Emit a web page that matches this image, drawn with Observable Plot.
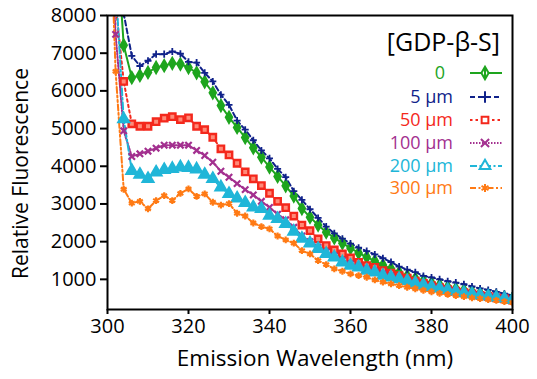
<!DOCTYPE html>
<html>
<head>
<meta charset="utf-8">
<script src="https://cdn.jsdelivr.net/npm/d3@7"></script>
<script src="https://cdn.jsdelivr.net/npm/@observablehq/plot@0.6"></script>
<style>
  html, body { margin: 0; padding: 0; background: #fff; }
  #wrap { position: relative; width: 537px; height: 379px; font-family: "Open Sans", sans-serif; }
  #legend { position: absolute; left: 0; top: 0; }
</style>
</head>
<body>
<div id="wrap"></div>
<script>
// Emission wavelength (nm)
const wavelengths = [300,302,304,306,308,310,312,314,316,318,320,322,324,326,328,330,332,334,336,338,340,342,344,346,348,350,352,354,356,358,360,362,364,366,368,370,372,374,376,378,380,382,384,386,388,390,392,394,396,398,400];

const series0 = [13500,10500,7210,6350,6410,6490,6620,6670,6730,6710,6620,6480,6240,5950,5610,5300,5030,4760,4490,4240,3980,3730,3480,3210,2880,2650,2440,2250,2100,1960,1830,1700,1590,1490,1380,1280,1180,1090,1020,960,900,850,800,750,710,670,630,590,560,520,490];
const series5 = [14000,11000,8050,6930,6660,6800,6975,6975,7045,6985,6770,6750,6480,6250,5900,5630,5213,4970,4690,4420,4210,3930,3710,3340,3110,2860,2630,2400,2220,2080,1950,1840,1750,1660,1560,1460,1340,1260,1190,1090,1050,1000,950,915,870,810,760,720,670,620,570];
const series50 = [11000,8300,6250,5126,5062,5062,5183,5275,5316,5240,5285,5062,4970,4770,4462,4300,4080,3850,3666,3488,3284,3070,2900,2680,2440,2290,2073,1896,1781,1675,1569,1453,1365,1320,1233,1162,1100,1030,950,890,830,780,730,690,650,615,575,550,510,485,450];
const series100 = [12000,7500,4940,4260,4330,4400,4480,4560,4560,4560,4560,4420,4285,4107,3868,3709,3540,3380,3240,3070,2910,2730,2580,2380,2150,2000,1850,1720,1620,1500,1410,1340,1270,1200,1140,1080,1020,960,910,860,810,770,730,690,650,620,590,560,530,500,470];
const series200 = [12000,8800,5250,3880,3780,3666,3840,3905,3935,3974,3960,3920,3780,3666,3443,3268,3150,3030,2913,2870,2692,2604,2472,2270,2080,1957,1808,1675,1587,1453,1365,1320,1233,1188,1100,1056,1010,960,900,850,800,760,720,680,640,610,580,550,520,490,460];
const series300 = [12600,6520,3390,3020,3070,2870,3090,3220,3090,3280,3400,3200,3268,3045,2970,3010,2754,2680,2495,2400,2339,2150,2047,1960,1763,1675,1498,1392,1277,1215,1144,1100,1056,985,924,880,835,790,750,710,670,630,600,570,540,510,490,460,440,410,380];

const seriesNames = ["0", "5 µm", "50 µm", "100 µm", "200 µm", "300 µm"];
const seriesValues = [series0, series5, series50, series100, series200, series300];
const xTicks = [300, 320, 340, 360, 380, 400];
const yTicks = [1000, 2000, 3000, 4000, 5000, 6000, 7000, 8000];
const legendTitle = "[GDP-β-S]";
const xLabel = "Emission Wavelength (nm)";
const yLabel = "Relative Fluorescence";

// styles
const colors = ["#1ea51e", "#10228a", "#f4281c", "#a3308f", "#20b6d8", "#ff7a14"];
const dashes = [null, "5,3", "2.5,3", "1.5,1.5", "7,2.5,2,2.5", "6,2.5,2,2.5,2,2.5"];
const symbols = ["diamond", "plus", "square", "times", "triangle", "asterisk"];

const rows = [];
seriesNames.forEach((name, i) => {
  seriesValues[i].forEach((v, j) => rows.push({series: name, nm: wavelengths[j], value: v}));
});

const marks = [];
seriesNames.forEach((name, i) => {
  const data = rows.filter(d => d.series === name);
  marks.push(Plot.line(data, {x: "nm", y: "value", stroke: colors[i], strokeWidth: 2, strokeDasharray: dashes[i], clip: true}));
});
seriesNames.forEach((name, i) => {
  const data = rows.filter(d => d.series === name);
  const sym = symbols[i];
  const filled = sym === "diamond" || sym === "triangle" || sym === "square";
  const r = {diamond: 3.3, plus: 2.4, square: 3.6, times: 3, triangle: 4, asterisk: 3.2}[sym];
  marks.push(Plot.dot(data, {
    x: "nm", y: "value", symbol: () => sym, r,
    fill: filled ? (sym === "square" ? "#ff8a78" : colors[i]) : "none",
    stroke: colors[i], strokeWidth: sym === "square" ? 2.4 : (sym === "plus" ? 1.8 : 2.2),
    clip: true
  }));
});

const chart = Plot.plot({
  width: 537, height: 379,
  marginLeft: 107, marginRight: 25, marginTop: 15, marginBottom: 70,
  style: {fontFamily: "Open Sans", fontSize: "20px", color: "#000", background: "#fff"},
  x: {domain: [300, 400]},
  y: {domain: [200, 8000]},
  marks: [
    ...marks,
    Plot.frame({stroke: "#000", strokeWidth: 2}),
    Plot.axisX({ticks: xTicks, tickSize: 5, tickPadding: 4, strokeWidth: 2, tickFormat: d => String(d), fontSize: 20, label: null}),
    Plot.axisY({ticks: yTicks, tickSize: 7, tickPadding: 4, strokeWidth: 2, tickFormat: d => String(d), fontSize: 20, label: null}),
    Plot.text([xLabel], {frameAnchor: "bottom", dx: 5, dy: 56, fontSize: 22.5, fill: "#000", textAnchor: "middle"}),
    Plot.text([yLabel], {frameAnchor: "left", rotate: -90, dx: -86, dy: 11, fontSize: 21, fill: "#000", textAnchor: "middle"})
  ]
});
const wrap = document.getElementById("wrap");
wrap.appendChild(chart);

// Legend overlay
const leg = d3.select(wrap).append("svg").attr("id", "legend").attr("width", 537).attr("height", 379)
  .style("font-family", "Open Sans, sans-serif");
leg.append("text").attr("x", 500).attr("y", 42).attr("dy", "0.35em").attr("text-anchor", "end")
  .attr("font-size", 25).attr("fill", "#000").text(legendTitle);
const rowY = [73, 97, 120, 143, 166, 188];
const symMap = {diamond: d3.symbolDiamond, plus: d3.symbolPlus, square: d3.symbolSquare, times: d3.symbolTimes, triangle: d3.symbolTriangle, asterisk: d3.symbolAsterisk};
seriesNames.forEach((name, i) => {
  const y = rowY[i];
  leg.append("text").attr("x", i === 0 ? 445 : 453).attr("y", y).attr("dy", "0.35em")
    .attr("text-anchor", "end").attr("font-size", 18).attr("fill", colors[i]).text(name);
  leg.append("line").attr("x1", 470).attr("x2", 502).attr("y1", y).attr("y2", y)
    .attr("stroke", colors[i]).attr("stroke-width", 2).attr("stroke-dasharray", dashes[i]);
  const sym = symbols[i];
  const size = sym === "triangle" ? 50 : 45;
  leg.append("path").attr("transform", `translate(485,${y})`)
    .attr("d", d3.symbol(symMap[sym], size)())
    .attr("fill", (sym === "plus" || sym === "times" || sym === "asterisk") ? "none" : "#fff")
    .attr("stroke", colors[i]).attr("stroke-width", 2);
  if (sym === "diamond") {
    leg.append("line").attr("x1", 485).attr("x2", 485).attr("y1", y - 6).attr("y2", y + 6)
      .attr("stroke", colors[i]).attr("stroke-width", 2);
  }
});
</script>
</body>
</html>
